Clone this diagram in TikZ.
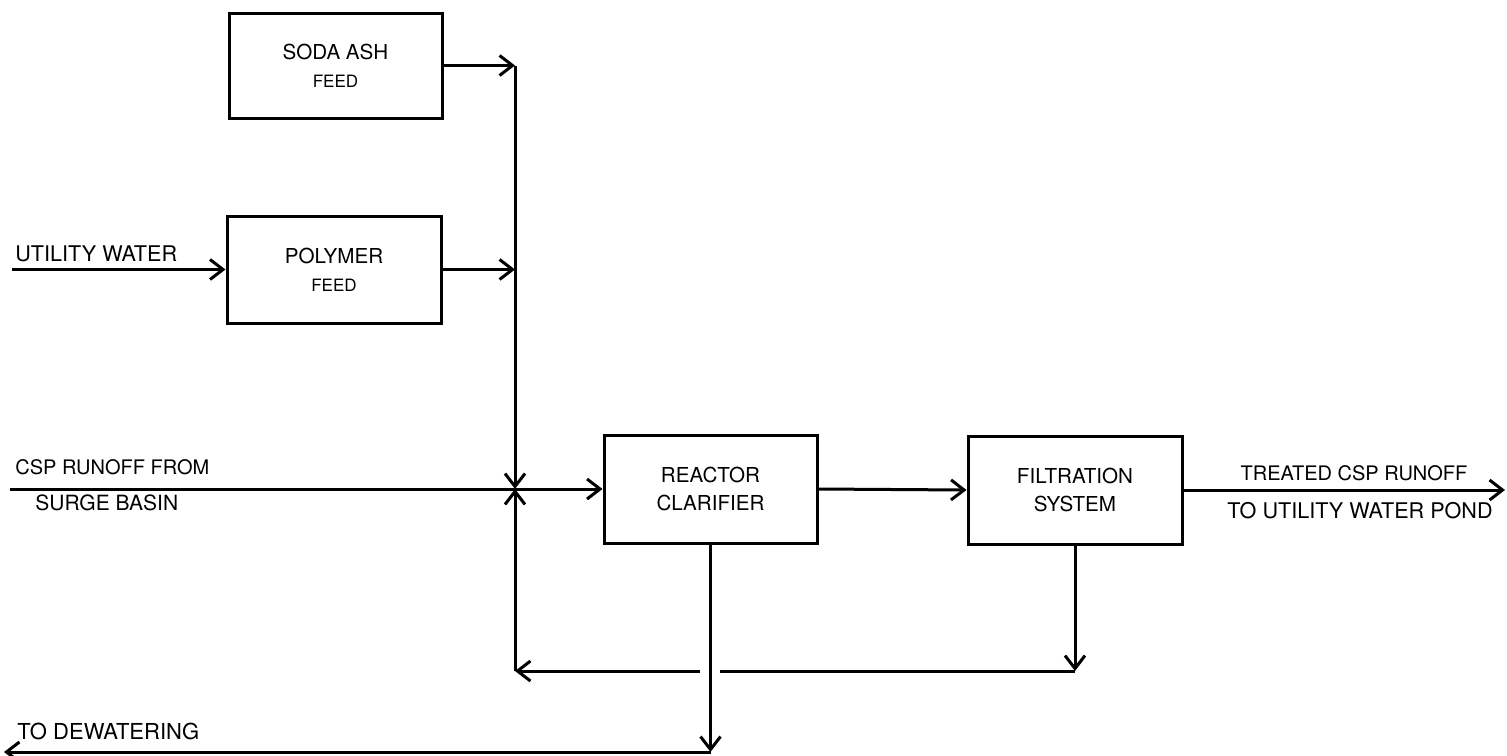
\documentclass[tikz,border=0pt]{standalone}
\usepackage{fontspec}
\setmainfont{TeX Gyre Heros}
\usetikzlibrary{arrows.meta}
\tikzset{
  box/.style={draw, line width=1.5pt, rectangle, inner sep=0pt, align=center,
    font=\fontsize{10.3}{14}\selectfont},
  arr/.style={line width=1.5pt, -{Straight Barb[length=6.5pt,width=10pt]}},
  plain/.style={line width=1.5pt},
  lab/.style={inner sep=0pt}
}
\newcommand{\feedtxt}{{\fontsize{8.5}{10}\selectfont FEED}}
\begin{document}
\begin{tikzpicture}[x=0.5pt,y=-0.5pt]
\useasboundingbox (0,0) rectangle (1507,755);
% boxes
\node[box, minimum width=106.5pt, minimum height=52.5pt] (soda) at (335.5,65.5) {SODA ASH\\\feedtxt};
\node[box, minimum width=107pt, minimum height=53.5pt] (poly) at (334,269.5) {POLYMER\\\feedtxt};
\node[box, minimum width=106.5pt, minimum height=54pt] (reac) at (710.5,489) {REACTOR\\CLARIFIER};
\node[box, minimum width=107pt, minimum height=54pt] (filt) at (1075,490) {FILTRATION\\SYSTEM};
% coordinates
\coordinate (j) at (515,489);
\coordinate (uw) at (12,269.5);
\coordinate (csp) at (10,489);
\coordinate (tr) at (1505,490);
\coordinate (fbR) at (1075,671);
\coordinate (fbL) at (515,671);
\coordinate (gapR) at (720,671);
\coordinate (gapL) at (700,671);
\coordinate (dw) at (710.5,752);
\coordinate (dwend) at (4,752);
% connectors
\draw[arr] (soda.east) -- (soda.east -| j);
\draw[arr] (poly.east) -- (poly.east -| j);
\draw[arr] (soda.east -| j) -- (j);
\draw[arr] (uw) -- (poly.west);
\draw[arr] (csp) -- (reac.west);
\draw[arr] (reac.east) -- (filt.west);
\draw[arr] (filt.east) -- (tr);
\draw[arr] (filt.south) -- (fbR);
\draw[plain] (fbR) -- (gapR);
\draw[arr] (gapL) -- (fbL);
\draw[arr] (fbL) -- (j);
\draw[arr] (reac.south) -- (dw);
\draw[arr] (dw) -- (dwend);
% labels
\node[lab, anchor=west, font=\fontsize{10.8}{13}\selectfont] (luw) at (15,254) {UTILITY WATER};
\node[lab, anchor=west, font=\fontsize{10}{12}\selectfont] (lcsp1) at (15,467) {CSP RUNOFF FROM};
\node[lab, anchor=west, font=\fontsize{10.5}{12}\selectfont] (lcsp2) at (35,503) {SURGE BASIN};
\node[lab, font=\fontsize{10}{12}\selectfont] (ltr1) at (1354,473) {TREATED CSP RUNOFF};
\node[lab, font=\fontsize{10.8}{13}\selectfont] (ltr2) at (1360,511) {TO UTILITY WATER POND};
\node[lab, anchor=west, font=\fontsize{11}{13}\selectfont] (ldw) at (17,731) {TO DEWATERING};
\end{tikzpicture}
\end{document}
